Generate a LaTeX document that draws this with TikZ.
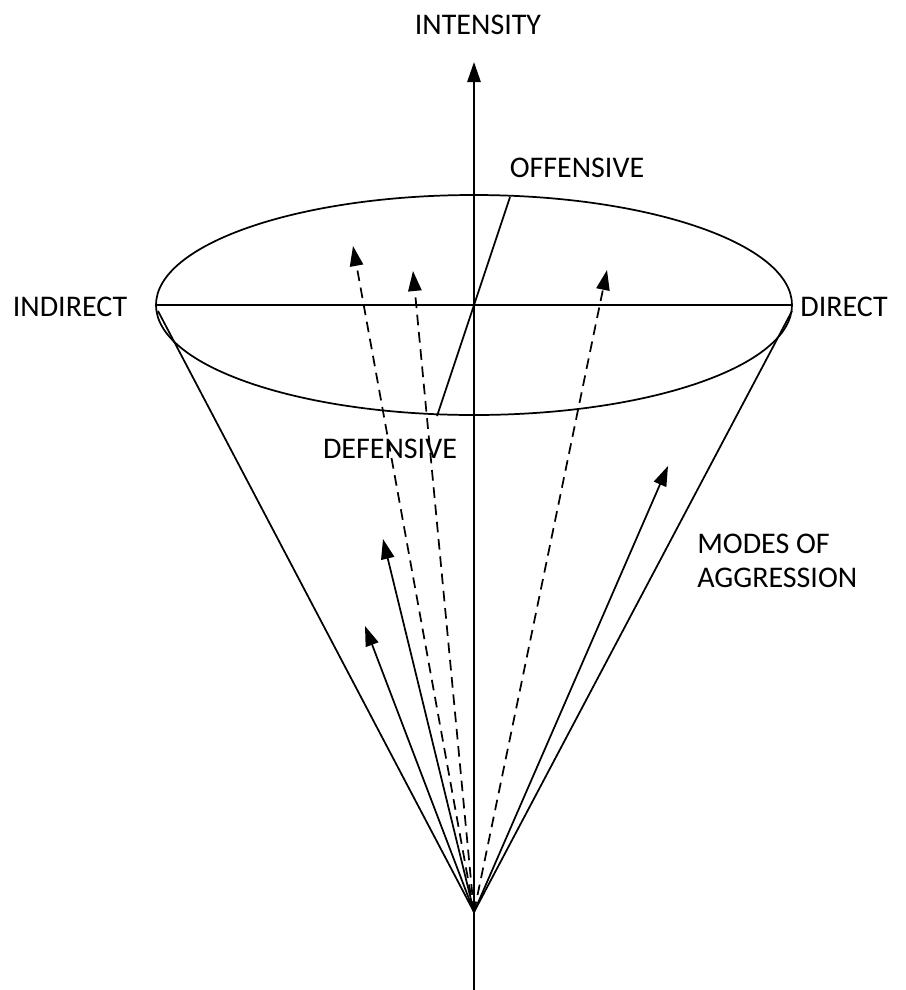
\documentclass[tikz,border=0pt]{standalone}
\usepackage{fontspec}
\setmainfont{Carlito}
\usetikzlibrary{arrows.meta}
\begin{document}
\begin{tikzpicture}[x=0.75pt,y=-0.75pt,
  ln/.style={line width=1.3pt,black},
  arr/.style={ln,-{Triangle[length=15pt,width=10pt]}},
  darr/.style={arr,dash pattern=on 8pt off 5pt},
  lbl/.style={font=\fontsize{22.5}{25}\selectfont,inner sep=0pt}]
\useasboundingbox (0,0) rectangle (906,990);
% key points
\coordinate (apex) at (474,912);
\coordinate (bot) at (474,990);
\coordinate (top) at (474,62);
\coordinate (L) at (157,305);
\coordinate (R) at (793,305);
\coordinate (Lc) at (158,311);
\coordinate (Rc) at (792,311);
\coordinate (C) at (474,305);
\coordinate (off) at (510,197);
\coordinate (def) at (437,416);
% axis
\draw[arr] (bot) -- (top);
% ellipse
\draw[ln] (C) ellipse [x radius=238.5pt, y radius=82.5pt];
\draw[ln] (L) -- (R);
\draw[ln] (off) -- (def);
% cone sides
\draw[ln] (Lc) -- (apex);
\draw[ln] (Rc) -- (apex);
% dashed arrows
\coordinate (d1) at (353,246);
\coordinate (d2) at (413,271);
\coordinate (d3) at (607,270);
\draw[darr] (apex) -- (d1);
\draw[darr] (apex) -- (d2);
\draw[darr] (apex) -- (d3);
% solid arrows
\coordinate (s1) at (383,539);
\coordinate (s2) at (365,626);
\coordinate (s3) at (668,466);
\draw[arr] (apex) -- (s1);
\draw[arr] (apex) -- (s2);
\draw[arr] (apex) -- (s3);
% labels
\node[lbl] (tI) at (478,25) {INTENSITY};
\node[lbl] (tO) at (577,168) {OFFENSIVE};
\node[lbl] (tIn) at (70,307) {INDIRECT};
\node[lbl] (tD) at (844,307) {DIRECT};
\node[lbl] (tDe) at (390,449) {DEFENSIVE};
\node[lbl,align=left,anchor=west] (tM) at (697,561) {MODES OF\\AGGRESSION};
\end{tikzpicture}
\end{document}
